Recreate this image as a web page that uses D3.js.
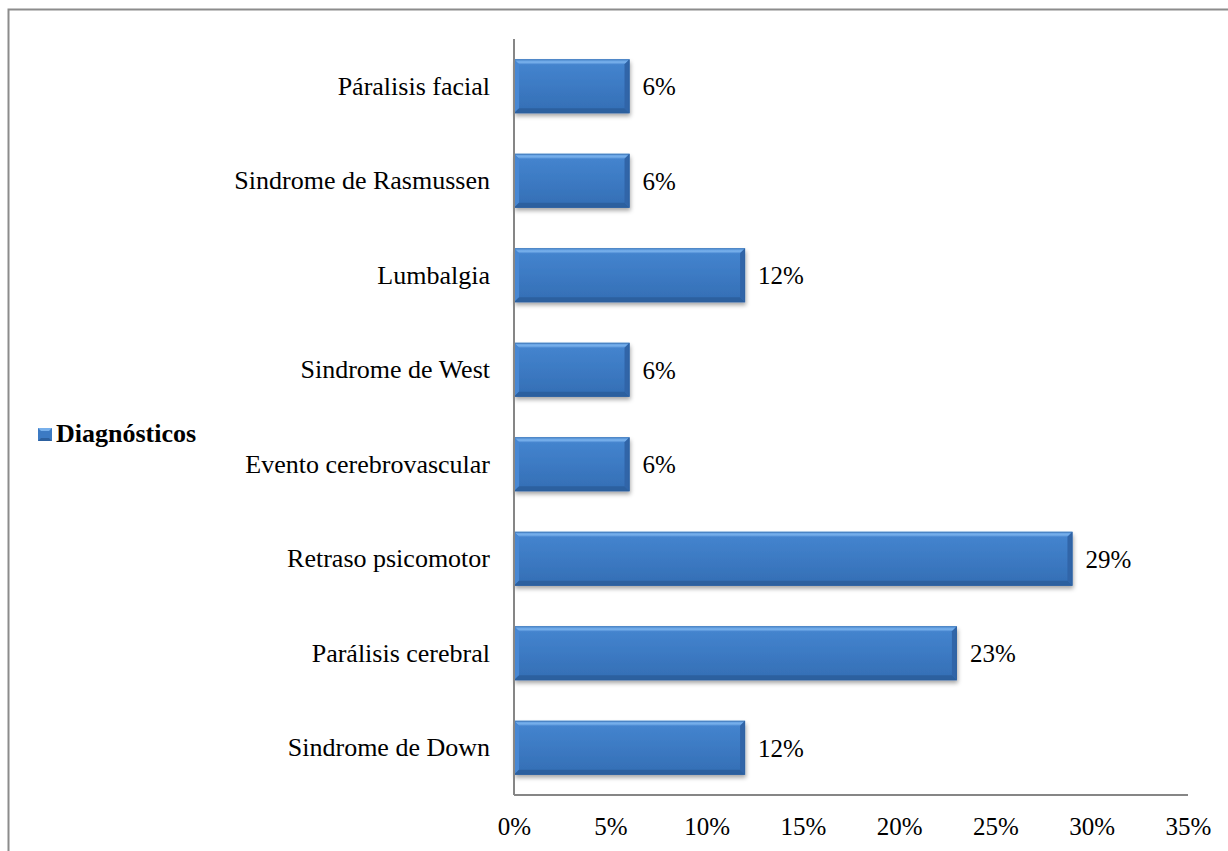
<!DOCTYPE html>
<html>
<head>
<meta charset="utf-8">
<script src="https://cdn.jsdelivr.net/npm/d3@7"></script>
<style>
  html, body { margin: 0; padding: 0; background: #fff; }
  svg { display: block; }
  text { font-family: "Liberation Serif", "Times New Roman", serif; fill: #000; }
</style>
</head>
<body>
<svg id="chart" width="1228" height="851"></svg>
<script>
// Diagnoses, top to bottom as listed on the axis
const categories = [
  "Páralisis facial",
  "Sindrome de Rasmussen",
  "Lumbalgia",
  "Sindrome de West",
  "Evento cerebrovascular",
  "Retraso psicomotor",
  "Parálisis cerebral",
  "Sindrome de Down"
];
const values = [6, 6, 12, 6, 6, 29, 23, 12];
const tickValues = [0, 5, 10, 15, 20, 25, 30, 35];
const seriesName = "Diagnósticos";

const svg = d3.select("#chart");
const W = 1228, H = 851;
const plot = { left: 514, right: 1188, top: 39, bottom: 795 };
const serif = "Liberation Serif, Times New Roman, serif";

const defs = svg.append("defs");
// vertical body gradient of each bar
const g1 = defs.append("linearGradient").attr("id", "barFill")
  .attr("x1", 0).attr("y1", 0).attr("x2", 0).attr("y2", 1);
g1.append("stop").attr("offset", "0%").attr("stop-color", "#4686d0");
g1.append("stop").attr("offset", "50%").attr("stop-color", "#3c7ac3");
g1.append("stop").attr("offset", "100%").attr("stop-color", "#346eb4");
const topBevel = defs.append("linearGradient").attr("id", "topBevel")
  .attr("x1", 0).attr("y1", 0).attr("x2", 0).attr("y2", 1);
topBevel.append("stop").attr("offset", "0%").attr("stop-color", "#5a99df");
topBevel.append("stop").attr("offset", "60%").attr("stop-color", "#78b0eb");
topBevel.append("stop").attr("offset", "100%").attr("stop-color", "#4c8bd4");
const shadow = defs.append("filter").attr("id", "shadow")
  .attr("x", "-5%").attr("y", "-20%").attr("width", "110%").attr("height", "160%");
shadow.append("feDropShadow").attr("dx", 1).attr("dy", 3).attr("stdDeviation", 2)
  .attr("flood-color", "#000").attr("flood-opacity", 0.35);

// outer frame
svg.append("rect").attr("x", 8.5).attr("y", 9.5).attr("width", W + 20).attr("height", H + 20)
  .attr("fill", "none").attr("stroke", "#8c8c8c").attr("stroke-width", 2);

const x = d3.scaleLinear().domain([0, 35]).range([plot.left, plot.right]);
const y = d3.scaleBand().domain(categories).range([plot.top, plot.bottom]).paddingInner(0.43).paddingOuter(0.215);

// bars with bevelled edges
const bevel = 5;
const bars = svg.append("g").selectAll("g").data(categories).join("g")
  .attr("transform", d => `translate(${x(0)},${y(d)})`);
bars.each(function(d, i) {
  const g = d3.select(this);
  const w = x(values[i]) - x(0);
  const h = y.bandwidth();
  g.append("rect").attr("width", w).attr("height", h).attr("fill", "url(#barFill)")
    .attr("filter", "url(#shadow)");
  // top bevel
  g.append("polygon").attr("points", `0,0 ${w},0 ${w - bevel},${bevel} ${bevel},${bevel}`)
    .attr("fill", "url(#topBevel)");
  // left bevel
  g.append("polygon").attr("points", `0,0 ${bevel},${bevel} ${bevel},${h - bevel} 0,${h}`)
    .attr("fill", "#4787d3");
  // bottom bevel
  g.append("polygon").attr("points", `0,${h} ${bevel},${h - bevel} ${w - bevel},${h - bevel} ${w},${h}`)
    .attr("fill", "#2c609f");
  // right bevel
  g.append("polygon").attr("points", `${w},0 ${w},${h} ${w - bevel},${h - bevel} ${w - bevel},${bevel}`)
    .attr("fill", "#3165a8");
  g.append("rect").attr("x", 0.5).attr("y", 0.5).attr("width", w - 1).attr("height", h - 1)
    .attr("fill", "none").attr("stroke", "#2e5f9e").attr("stroke-opacity", 0.5);
});

// value labels
svg.append("g").selectAll("text").data(categories).join("text")
  .attr("x", (d, i) => x(values[i]) + 13)
  .attr("y", d => y(d) + y.bandwidth() / 2)
  .attr("dy", "0.35em")
  .attr("font-size", 25)
  .text((d, i) => values[i] + "%");

// category axis
const yAxis = svg.append("g").attr("transform", `translate(${plot.left},0)`)
  .call(d3.axisLeft(y).tickSize(0).tickPadding(24));
yAxis.attr("font-family", serif);
yAxis.select(".domain").attr("stroke", "#868686").attr("stroke-width", 2)
  .attr("d", `M0,${plot.top}V${plot.bottom}`);
yAxis.selectAll("text").attr("font-size", 26).attr("fill", "#000");

// value axis
const xAxis = svg.append("g").attr("transform", `translate(0,${plot.bottom})`)
  .call(d3.axisBottom(x).tickValues(tickValues).tickSize(0).tickPadding(22).tickFormat(d => d + "%"));
xAxis.attr("font-family", serif);
xAxis.select(".domain").attr("stroke", "#868686").attr("stroke-width", 2)
  .attr("d", `M${plot.left},0H${plot.right}`);
xAxis.selectAll("text").attr("font-size", 25).attr("fill", "#000");

// legend
const lg = svg.append("g").attr("transform", "translate(38,428)");
lg.append("rect").attr("width", 14).attr("height", 13).attr("fill", "#3c7ac3");
lg.append("polygon").attr("points", "0,0 14,0 11,3 3,3").attr("fill", "#78b0eb");
lg.append("polygon").attr("points", "0,13 3,10 11,10 14,13").attr("fill", "#2c609f");
lg.append("text").attr("x", 18).attr("y", 14).attr("font-size", 26).attr("font-weight", "bold")
  .text(seriesName);
</script>
</body>
</html>
